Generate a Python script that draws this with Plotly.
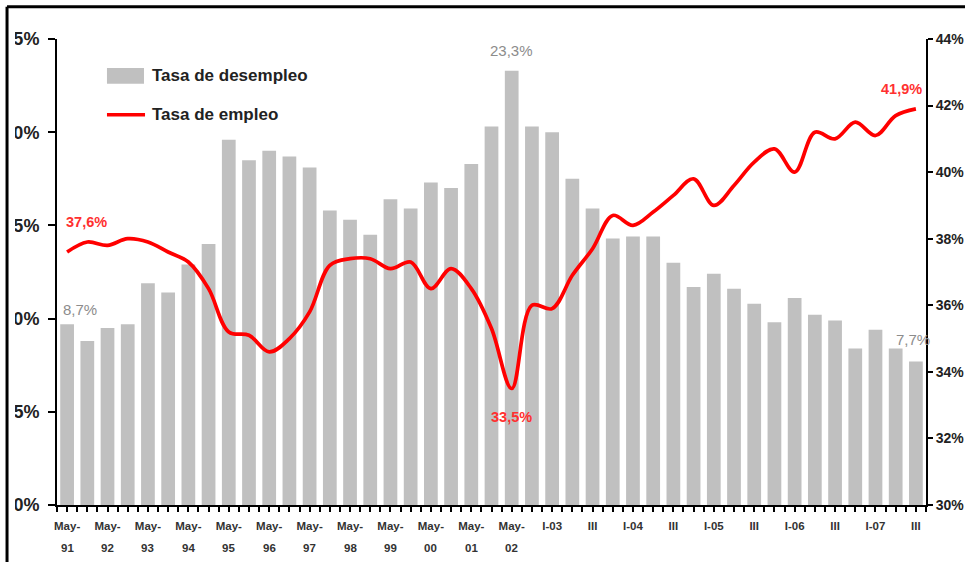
import plotly.graph_objects as go

# periodos: semestral (May/Oct) 1991-2002, trimestral 2003-2007
periodos = []
for a in ["91", "92", "93", "94", "95", "96", "97", "98", "99", "00", "01"]:
    periodos += [f"May-{a}", f"Oct-{a}"]
periodos += ["May-02", "Oct-02"]
for a in ["03", "04", "05", "06"]:
    periodos += [f"I-{a}", f"II-{a}", f"III-{a}", f"IV-{a}"]
periodos += ["I-07", "II-07", "III-07"]

desempleo = [
    9.7, 8.8, 9.5, 9.7, 11.9, 11.4, 12.9, 14.0, 19.6, 18.5,
    19.0, 18.7, 18.1, 15.8, 15.3, 14.5, 16.4, 15.9, 17.3, 17.0,
    18.3, 20.3, 23.3, 20.3, 20.0, 17.5, 15.9, 14.3, 14.4, 14.4,
    13.0, 11.7, 12.4, 11.6, 10.8, 9.8, 11.1, 10.2, 9.9, 8.4,
    9.4, 8.4, 7.7,
]

empleo = [
    37.6, 37.9, 37.8, 38.0, 37.9, 37.6, 37.3, 36.5, 35.2, 35.1,
    34.6, 35.0, 35.8, 37.2, 37.4, 37.4, 37.1, 37.3, 36.5, 37.1,
    36.5, 35.3, 33.5, 36.0, 35.9, 36.9, 37.7, 38.7, 38.4, 38.8,
    39.3, 39.8, 39.0, 39.6, 40.3, 40.7, 40.0, 41.2, 41.0, 41.5,
    41.1, 41.7, 41.9,
]

tick_pos = list(range(0, 43, 2))
tick_txt = ["May-"] * 12 + ["I-03", "III", "I-04", "III", "I-05", "III",
                            "I-06", "III", "I-07", "III"]
anios = ["91", "92", "93", "94", "95", "96", "97", "98", "99", "00", "01", "02"]

x = list(range(len(periodos)))
F = "Liberation Sans, Arial, sans-serif"

fig = go.Figure()
fig.add_trace(go.Bar(
    x=x, y=desempleo, name="Tasa de desempleo",
    marker=dict(color="#c0c0c0", line=dict(width=0)),
    customdata=periodos, hovertemplate="%{customdata}: %{y}%<extra></extra>",
))
fig.add_trace(go.Scatter(
    x=x, y=empleo, name="Tasa de empleo", yaxis="y2",
    mode="lines", line=dict(color="#ff0000", width=3.7, shape="spline", smoothing=1.0),
    customdata=periodos, hovertemplate="%{customdata}: %{y}%<extra></extra>",
))

# segunda linea de las etiquetas del eje x (años)
for p, a in zip(tick_pos, anios):
    fig.add_annotation(x=p, y=-0.0923, yref="paper", yanchor="middle", text=f"<b>{a}</b>",
                       showarrow=False, font=dict(family=F, size=11.5, color="#333"))

# etiquetas de valores
gris = dict(family=F, size=15, color="#8c8c8c")
rojo = dict(family=F, size=14.5, color="#ff3030")
fig.add_annotation(x=0, y=10.5, text="8,7%", showarrow=False, xanchor="left", xshift=-6,
                   yanchor="middle", font=gris)
fig.add_annotation(x=22, y=24.4, text="23,3%", showarrow=False, yanchor="middle", font=gris)
fig.add_annotation(x=42, y=8.9, text="7,7%", showarrow=False, xshift=-3, yanchor="middle", font=gris)
fig.add_annotation(x=0.95, y=38.5, yref="y2", text="<b>37,6%</b>", showarrow=False,
                   yanchor="middle", font=rojo)
fig.add_annotation(x=22, y=32.65, yref="y2", text="<b>33,5%</b>", showarrow=False,
                   yanchor="middle", font=rojo)
fig.add_annotation(x=41.3, y=42.5, yref="y2", text="<b>41,9%</b>", showarrow=False,
                   yanchor="middle", font=rojo)

# leyenda dibujada a mano
fig.add_shape(type="rect", xref="paper", yref="paper", x0=0.0575, x1=0.1001, y0=0.904, y1=0.938,
              fillcolor="#c0c0c0", line=dict(width=0))
fig.add_shape(type="line", xref="paper", yref="paper", x0=0.0575, x1=0.1013, y0=0.8375, y1=0.8375,
              line=dict(color="#ff0000", width=3.7))
fig.add_annotation(xref="paper", yref="paper", x=0.107, y=0.921, text="<b>Tasa de desempleo</b>",
                   showarrow=False, xanchor="left", yanchor="middle",
                   font=dict(family=F, size=17, color="#222"))
fig.add_annotation(xref="paper", yref="paper", x=0.107, y=0.8375, text="<b>Tasa de empleo</b>",
                   showarrow=False, xanchor="left", yanchor="middle",
                   font=dict(family=F, size=17, color="#222"))

# recorte del borde izquierdo y marco
fig.add_shape(type="rect", xref="paper", yref="paper", x0=-0.07, x1=-0.0483, y0=-0.13, y1=1.1,
              fillcolor="white", line=dict(width=0), layer="above")
fig.add_shape(type="line", xref="paper", yref="paper", x0=-0.0575, x1=-0.0575, y0=-0.13, y1=1.0693,
              line=dict(color="black", width=3), layer="above")
fig.add_shape(type="line", xref="paper", yref="paper", x0=-0.0575, x1=1.05, y0=1.0693, y1=1.0693,
              line=dict(color="black", width=3), layer="above")

fig.update_layout(
    width=965, height=562,
    margin=dict(l=57, r=39, t=39, b=57),
    paper_bgcolor="white", plot_bgcolor="white",
    showlegend=False, bargap=0.32,
    xaxis=dict(
        range=[-0.5, 42.5], tickmode="array", tickvals=tick_pos, ticktext=tick_txt,
        showline=True, linecolor="black", linewidth=2, showgrid=False, zeroline=False,
        ticks="outside", ticklen=5, tickwidth=1.5, tickcolor="black",
        minor=dict(tickmode="linear", tick0=0, dtick=0.5, ticks="outside", ticklen=5,
                   tickwidth=1.5, tickcolor="black"),
        tickfont=dict(family=F, size=11.5, color="#333", weight="bold"), tickangle=0,
        automargin=False, ticklabelstandoff=4,
    ),
    yaxis=dict(
        range=[0, 25], tickvals=[0, 5, 10, 15, 20, 25],
        ticktext=["0%", "5%", "10%", "15%", "20%", "25%"],
        showline=True, linecolor="black", linewidth=2, showgrid=False, zeroline=False,
        ticks="outside", ticklen=7, tickwidth=2, tickcolor="black",
        tickfont=dict(family=F, size=18, color="#222", weight="bold"),
        automargin=False, ticklabelstandoff=5,
    ),
    yaxis2=dict(
        range=[30, 44], tickvals=[30, 32, 34, 36, 38, 40, 42, 44],
        ticktext=["30%", "32%", "34%", "36%", "38%", "40%", "42%", "44%"],
        overlaying="y", side="right",
        showline=True, linecolor="black", linewidth=2, showgrid=False, zeroline=False,
        ticks="outside", ticklen=5, tickwidth=2, tickcolor="black",
        tickfont=dict(family=F, size=14, color="#222", weight="bold"),
        automargin=False, ticklabelstandoff=0,
    ),
)

# sin margen del body para que la figura ocupe toda la ventana
fig.write_html("out.html", config={"displayModeBar": False},
               post_script="document.body.style.margin='0';")
